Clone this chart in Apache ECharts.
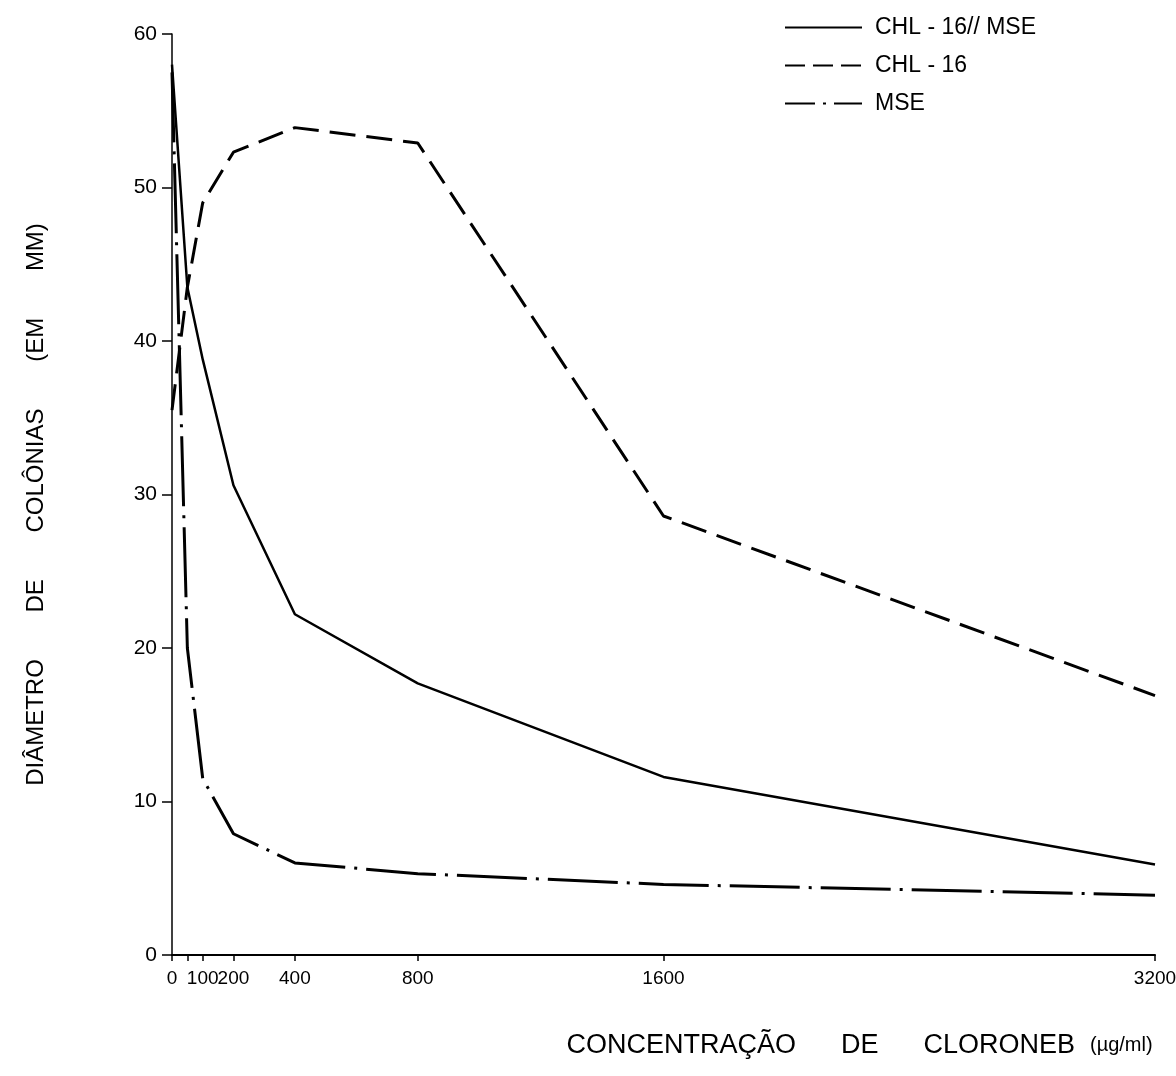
<!DOCTYPE html>
<html>
<head>
<meta charset="utf-8">
<script src="https://cdn.jsdelivr.net/npm/echarts@6/dist/echarts.min.js"></script>
<style>
html,body{margin:0;padding:0;background:#fff;}
#c{width:1176px;height:1076px;}
</style>
</head>
<body>
<div id="c"></div>
<script>
// Concentrations of Cloroneb (µg/ml)
const concentrations = [0, 50, 100, 200, 400, 800, 1600, 3200];
const tickValues = [0, 50, 100, 200, 400, 800, 1600, 3200];
const xLabelValues = [0, 100, 200, 400, 800, 1600, 3200];
// Colony diameter (mm)
const chl16mse = [58, 43.5, 38.8, 30.6, 22.2, 17.7, 11.6, 5.9];
const chl16 = [35.5, 43.5, 49, 52.3, 53.9, 52.9, 28.6, 16.9];
const mse = [57.5, 20, 11.5, 7.9, 6.0, 5.3, 4.6, 3.9];
const seriesNames = ['CHL - 16// MSE', 'CHL - 16', 'MSE'];

function pairs(ys) { return concentrations.map((x, i) => [x, ys[i]]); }

const FONT = 'Liberation Sans';
const chart = echarts.init(document.getElementById('c'), null, {renderer: 'canvas'});
chart.setOption({
  backgroundColor: '#ffffff',
  animation: false,
  grid: {left: 172, right: 21, top: 34, bottom: 121, containLabel: false, outerBoundsMode: 'none'},
  legend: {
    orient: 'vertical',
    left: 779,
    top: 11,
    itemWidth: 77,
    itemHeight: 14,
    itemGap: 15,
    itemStyle: {color: 'transparent', borderColor: 'transparent', borderWidth: 0},
    textStyle: {fontFamily: FONT, fontSize: 23, color: '#000', padding: [0, 0, 0, 8]},
    data: [
      {name: seriesNames[0]},
      {name: seriesNames[1], lineStyle: {type: [20, 8]}},
      {name: seriesNames[2], lineStyle: {type: [30, 8, 3, 8]}}
    ]
  },
  xAxis: {
    type: 'value',
    min: 0,
    max: 3200,
    name: 'CONCENTRAÇÃO      DE      CLORONEB  {u|(µg/ml)}',
    nameLocation: 'middle',
    nameGap: 77,
    nameTextStyle: {
      fontFamily: FONT, fontSize: 27, color: '#000', padding: [0, 0, 0, 392],
      rich: {u: {fontFamily: FONT, fontSize: 20, color: '#000'}}
    },
    axisLine: {show: true, onZero: false, lineStyle: {color: '#000', width: 2}},
    axisTick: {show: true, customValues: tickValues, length: 6, lineStyle: {color: '#000', width: 1.5}},
    axisLabel: {
      customValues: xLabelValues, fontFamily: FONT, fontSize: 19, color: '#000', margin: 14, hideOverlap: false,
      formatter: function (v) { return String(v); }
    },
    splitLine: {show: false}
  },
  yAxis: {
    type: 'value',
    min: 0,
    max: 60,
    interval: 10,
    name: 'DIÂMETRO       DE       COLÔNIAS       (EM       MM)   ',
    nameLocation: 'middle',
    nameGap: 124,
    nameTextStyle: {fontFamily: FONT, fontSize: 24, color: '#000'},
    axisLine: {show: true, lineStyle: {color: '#000', width: 1.5}},
    axisTick: {show: true, length: 10, lineStyle: {color: '#000', width: 1.5}},
    axisLabel: {fontFamily: FONT, fontSize: 21, color: '#000', margin: 15},
    splitLine: {show: false}
  },
  series: [
    {
      name: seriesNames[0], type: 'line', data: pairs(chl16mse), symbol: 'none',
      lineStyle: {color: '#000', width: 2.5, type: 'solid'}, itemStyle: {color: '#000'}
    },
    {
      name: seriesNames[1], type: 'line', data: pairs(chl16), symbol: 'none',
      lineStyle: {color: '#000', width: 3, type: [26, 11]}, itemStyle: {color: '#000'}
    },
    {
      name: seriesNames[2], type: 'line', data: pairs(mse), symbol: 'none',
      lineStyle: {color: '#000', width: 3, type: [70, 9, 3, 9]}, itemStyle: {color: '#000'}
    }
  ]
});
</script>
</body>
</html>
